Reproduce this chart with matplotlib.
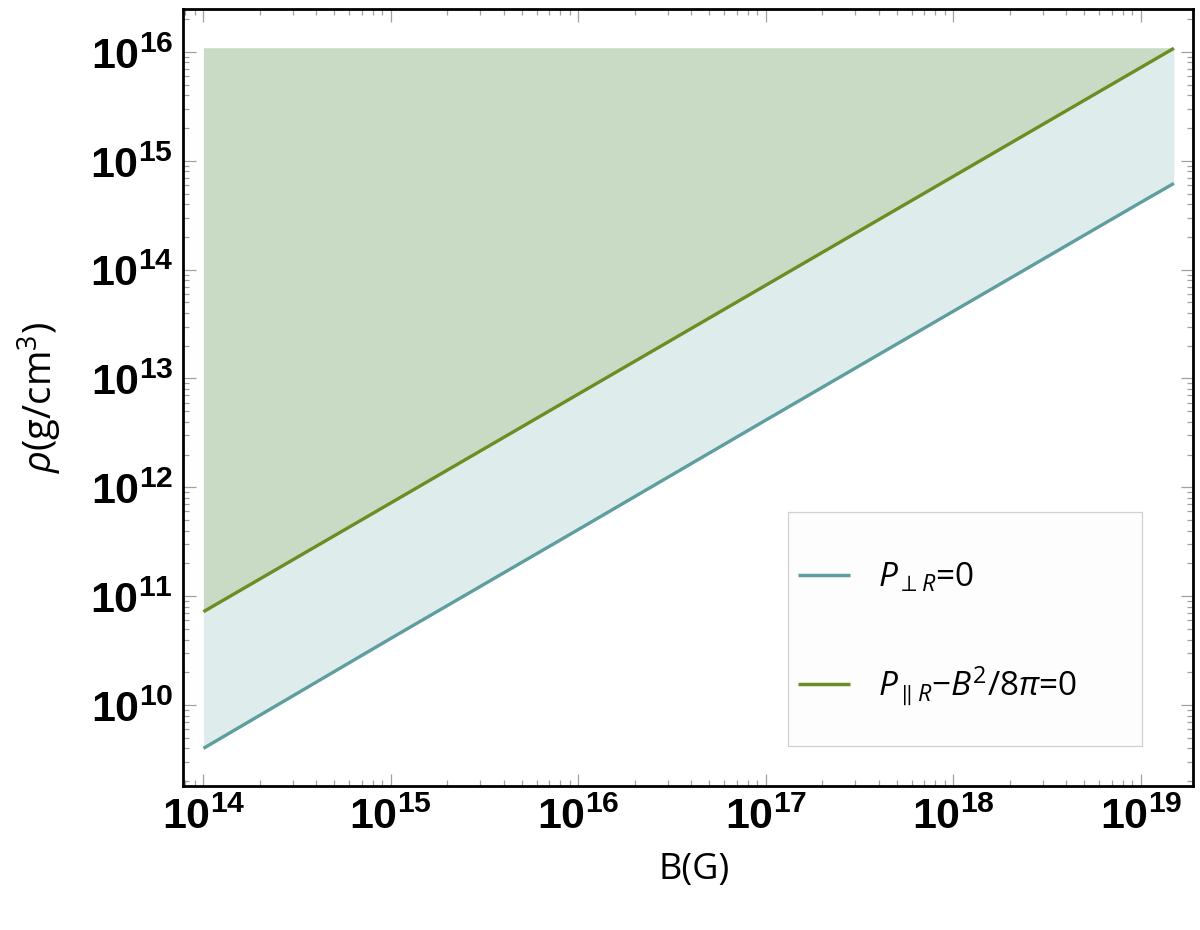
import numpy as np
import matplotlib
matplotlib.use("Agg")
import matplotlib.pyplot as plt
from matplotlib.ticker import LogLocator, FuncFormatter, NullFormatter
from matplotlib.patches import Rectangle

# ---- data ----
B_vals = [1e14, 1e15, 1e16, 1e17, 1e18, 1e19, 1.5e19]
rho_perp = [4.0e9, 4.1e10, 4.1e11, 4.15e12, 4.15e13, 4.15e14, 6.2e14]    # P_perpR = 0
rho_par = [7.2e10, 7.2e11, 7.2e12, 7.2e13, 7.2e14, 7.2e15, 1.08e16]       # P_parR - B^2/8pi = 0
rho_top = 1.09e16
labels = [r'$P_{\perp R}$=0', r'$P_{\parallel R}$$-B^2/8\pi$=0']
xlabel = 'B(G)'
ylabel = r'$\rho$(g/cm$^3$)'

teal = '#5f9ea0'
olive = '#6b8e23'

plt.rcParams['font.family'] = ['Open Sans', 'DejaVu Sans']
plt.rcParams['mathtext.fontset'] = 'custom'
plt.rcParams['mathtext.rm'] = 'Open Sans'
plt.rcParams['mathtext.it'] = 'Open Sans:italic'
plt.rcParams['mathtext.bf'] = 'Liberation Sans:bold'

fig = plt.figure(figsize=(12, 9.3), dpi=100)
ax = fig.add_axes([0.1525, 0.1548, 0.994 - 0.1525, 0.9898 - 0.1548])

B = np.array(B_vals)
top = np.full(len(B), rho_top)
ax.fill_between(B, rho_perp, top, color='#deecec', lw=0, zorder=1)
ax.fill_between(B, rho_par, top, color='#c9dac5', lw=0, zorder=2)
l1, = ax.plot(B, rho_perp, color=teal, lw=2.4, zorder=3, solid_capstyle='butt')
l2, = ax.plot(B, rho_par, color=olive, lw=2.4, zorder=3, solid_capstyle='butt')

ax.set_xscale('log')
ax.set_yscale('log')
ax.set_xlim(10**13.891, 10**19.277)
ax.set_ylim(10**9.256, 10**16.39)

fmt = FuncFormatter(lambda v, p: r'$\mathbf{10^{%d}}$' % int(round(np.log10(v))))
for axis in (ax.xaxis, ax.yaxis):
    axis.set_major_locator(LogLocator(base=10, numticks=20))
    axis.set_minor_locator(LogLocator(base=10, subs=np.arange(2, 10), numticks=20))
    axis.set_major_formatter(fmt)
    axis.set_minor_formatter(NullFormatter())

ax.tick_params(which='both', direction='in', top=True, right=True, color='#a0a0a0', width=0.9)
ax.tick_params(which='major', length=9, labelsize=31, pad=7)
ax.tick_params(which='minor', length=4.5)
for s in ax.spines.values():
    s.set_linewidth(2.0)
    s.set_color('black')

ax.set_xlabel(xlabel, fontsize=26)
ax.set_ylabel(ylabel, fontsize=27.5)
ax.xaxis.set_label_coords(0.506, -0.085)
ax.yaxis.set_label_coords(-0.118, 0.5)

# legend frame
ax.add_patch(Rectangle((0.599, 0.0515), 0.3505, 0.3015, transform=ax.transAxes,
                       facecolor='#fdfdfd', edgecolor='#d0d0d0', lw=0.9, zorder=4))
leg = ax.legend([l1, l2], labels, loc='upper left', bbox_to_anchor=(0.609, 0.29),
                frameon=False, fontsize=24, handlelength=1.55, handletextpad=0.85,
                labelspacing=2.1, borderpad=0.0, borderaxespad=0.0)
leg.set_zorder(5)
for h in leg.get_lines():
    h.set_linewidth(2.5)

fig.savefig('out.png', dpi=100)
